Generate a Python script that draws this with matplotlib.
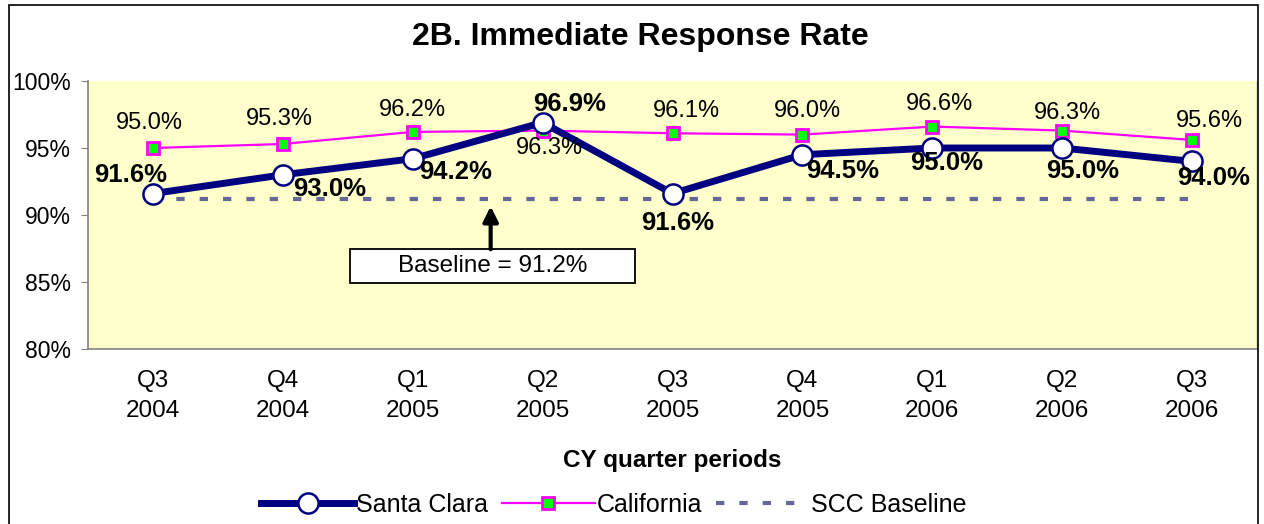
import matplotlib
matplotlib.use("Agg")
import matplotlib.pyplot as plt
from matplotlib.patches import Rectangle
from matplotlib.ticker import FuncFormatter, MultipleLocator

plt.rcParams['font.family'] = ['Liberation Sans', 'DejaVu Sans']

# ---- data ----
categories = ["Q3\n2004", "Q4\n2004", "Q1\n2005", "Q2\n2005", "Q3\n2005",
              "Q4\n2005", "Q1\n2006", "Q2\n2006", "Q3\n2006"]
santa_clara = [91.6, 93.0, 94.2, 96.9, 91.6, 94.5, 95.0, 95.0, 94.0]
california = [95.0, 95.3, 96.2, 96.3, 96.1, 96.0, 96.6, 96.3, 95.6]
scc_baseline = [91.2, 91.2, 91.2, 91.2, 91.2, 91.2, 91.2, 91.2, 91.2]
baseline_value = 91.2

# label offsets in pixels (dx, dy)
sc_offsets = [(-22, 19), (47, -14), (43, -13), (27, 19), (5, -29),
              (40, -16), (14, -15), (20, -23), (22, -17)]
ca_offsets = [(-4, 25), (-3, 25), (0, 22), (7, -17), (14, 22),
              (5, 24), (7, 23), (5, 18), (17, 19)]

W, H = 1264, 524
fig = plt.figure(figsize=(W / 100, H / 100), dpi=100)
ax = fig.add_axes([88 / W, 1 - 349 / H, (1257 - 88) / W, (349 - 81) / H])
ax.set_facecolor('#FFFFCC')

x = list(range(len(categories)))

ax.plot(x, scc_baseline, color='#666699', lw=3, dashes=(2.0, 3.6),
        label='SCC Baseline', zorder=2)
ax.plot(x, california, color='#FF00FF', lw=1.6, marker='s', markersize=8,
        markerfacecolor='#00FF00', markeredgecolor='#FF00FF', markeredgewidth=2,
        label='California', zorder=3)
ax.plot(x, santa_clara, color='#000080', lw=5, marker='o', markersize=14.5,
        markerfacecolor='white', markeredgecolor='#000080', markeredgewidth=1.8,
        label='Santa Clara', zorder=4)

px = 0.72  # points per pixel at 100 dpi
for i, (v, (dx, dy)) in enumerate(zip(santa_clara, sc_offsets)):
    ax.annotate(f"{v:.1f}%", (i, v), xytext=(dx * px, dy * px),
                textcoords='offset points', ha='center', va='center',
                fontsize=18.5, fontweight='bold', color='black', zorder=6)
for i, (v, (dx, dy)) in enumerate(zip(california, ca_offsets)):
    ax.annotate(f"{v:.1f}%", (i, v), xytext=(dx * px, dy * px),
                textcoords='offset points', ha='center', va='center',
                fontsize=17, color='black', zorder=6)

ax.set_xlim(-0.5, len(categories) - 0.5)
ax.set_ylim(80, 100)
ax.yaxis.set_major_locator(MultipleLocator(5))
ax.yaxis.set_major_formatter(FuncFormatter(lambda v, p: f"{v:.0f}%"))
ax.set_xticks(x)
ax.set_xticklabels(categories, fontsize=17.5, linespacing=1.5)
ax.tick_params(axis='x', length=0, pad=15)
ax.tick_params(axis='y', length=5, color='#808080', labelsize=16.5, pad=7)

for s in ['top', 'right']:
    ax.spines[s].set_visible(False)
ax.spines['left'].set_color('#808080')
ax.spines['bottom'].set_color('#808080')
ax.spines['left'].set_linewidth(1.2)
ax.spines['bottom'].set_linewidth(1.2)
ax.axvline(len(categories) - 0.5, color='#808080', lw=1)

ax.set_xlabel("CY quarter periods", fontsize=17.5, fontweight='bold', labelpad=19)

# baseline annotation box
box_x0, box_x1 = 1.515, 3.715
box_y0, box_y1 = 84.91, 87.44
ax.add_patch(Rectangle((box_x0, box_y0), box_x1 - box_x0, box_y1 - box_y0,
                       facecolor='white', edgecolor='black', lw=1.3, zorder=5))
ax.text((box_x0 + box_x1) / 2, (box_y0 + box_y1) / 2, f"Baseline = {baseline_value}%",
        ha='center', va='center', fontsize=17.5, zorder=6)
ax.annotate("", xy=(2.6, 90.65), xytext=(2.6, box_y1),
            arrowprops=dict(arrowstyle='-|>,head_length=0.9,head_width=0.45',
                            color='black', lw=3, shrinkA=0, shrinkB=0), zorder=6)

fig.text(640 / W, 1 - 37 / H, "2B. Immediate Response Rate", ha='center', va='center',
         fontsize=23, fontweight='bold')

h, l = ax.get_legend_handles_labels()
order = [2, 1, 0]
fig.legend([h[i] for i in order], [l[i] for i in order], loc='center',
           bbox_to_anchor=(614 / W, 1 - 505 / H), ncol=3, frameon=False,
           fontsize=18, handlelength=3.7, handletextpad=0.1, columnspacing=0.55)

fig.add_artist(Rectangle((9 / W, -0.01), (1258 - 9) / W, 1 - 5 / H + 0.01,
                         transform=fig.transFigure, fill=False,
                         edgecolor='black', lw=1.2))

fig.savefig("out.png", dpi=100)
